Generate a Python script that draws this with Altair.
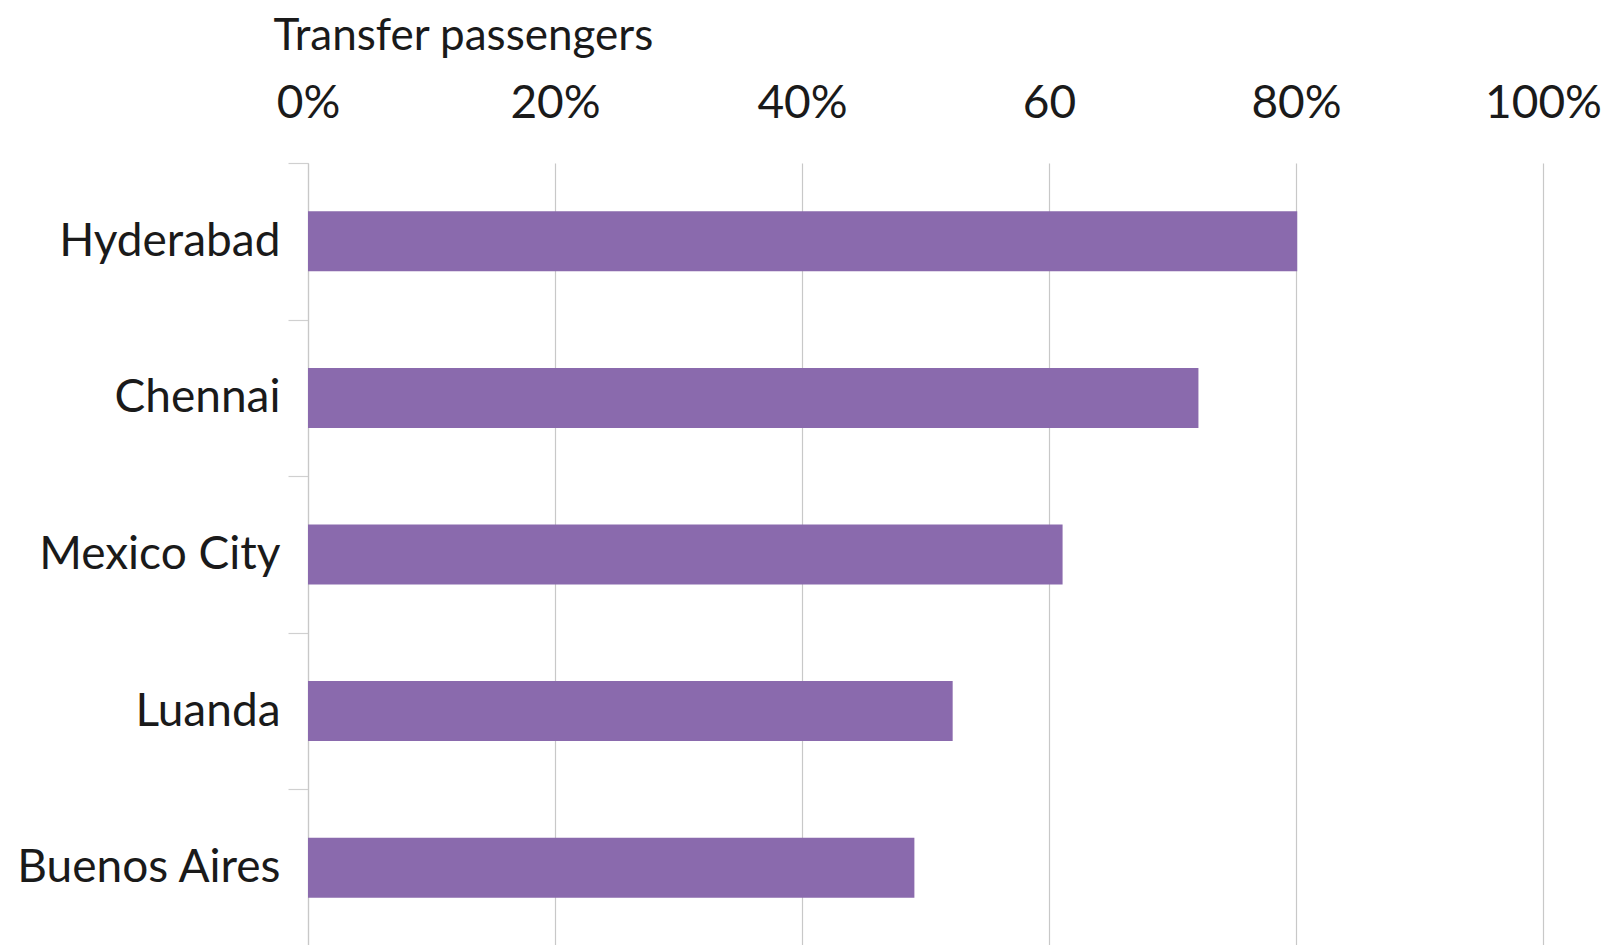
import altair as alt
import pandas as pd

cities = ["Hyderabad", "Chennai", "Mexico City", "Luanda", "Buenos Aires"]
shares = [80.1, 72.1, 61.1, 52.2, 49.1]
tick_values = [0, 20, 40, 60, 80, 100]

df = pd.DataFrame({"city": cities, "share": shares})

FONT = "Lato"
TEXT = "#1a1a1a"

chart = alt.Chart(df).mark_bar(color="#8a6aad", size=60).encode(
    x=alt.X(
        "share:Q",
        scale=alt.Scale(domain=[0, 100], nice=False, zero=True),
        axis=alt.Axis(
            orient="top",
            values=tick_values,
            labelExpr="datum.value == 60 ? '60' : datum.value + '%'",
            title="Transfer passengers",
            titleX=-35,
            titleY=-114,
            titleAlign="left",
            titleAnchor="start",
            titleBaseline="alphabetic",
            titleFont=FONT,
            titleFontSize=44,
            titleFontWeight="normal",
            titleColor=TEXT,
            labelFont=FONT,
            labelFontSize=46,
            labelColor=TEXT,
            labelPadding=36,
            labelFlush=False,
            labelOverlap=False,
            labelLimit=0,
            ticks=False,
            domain=False,
            grid=True,
            gridColor="#c8c8c8",
            gridWidth=1.2,
        ),
    ),
    y=alt.Y(
        "city:N",
        sort=cities,
        scale=alt.Scale(paddingInner=0, paddingOuter=0),
        axis=alt.Axis(
            title=None,
            labelFont=FONT,
            labelFontSize=46,
            labelColor=TEXT,
            labelPadding=8,
            labelLimit=0,
            tickBand="extent",
            tickSize=20,
            tickColor="#d0d0d0",
            tickWidth=1.2,
            domain=True,
            domainColor="#c8c8c8",
            domainWidth=1.2,
            grid=False,
        ),
    ),
).properties(
    width=1235,
    height=783,
    padding={"left": 300, "top": 155, "right": 63, "bottom": 0},
    autosize=alt.AutoSizeParams(type="none"),
    background="white",
).configure_view(stroke=None)

chart.save("out.html", embed_options={"renderer": "svg", "actions": False})
